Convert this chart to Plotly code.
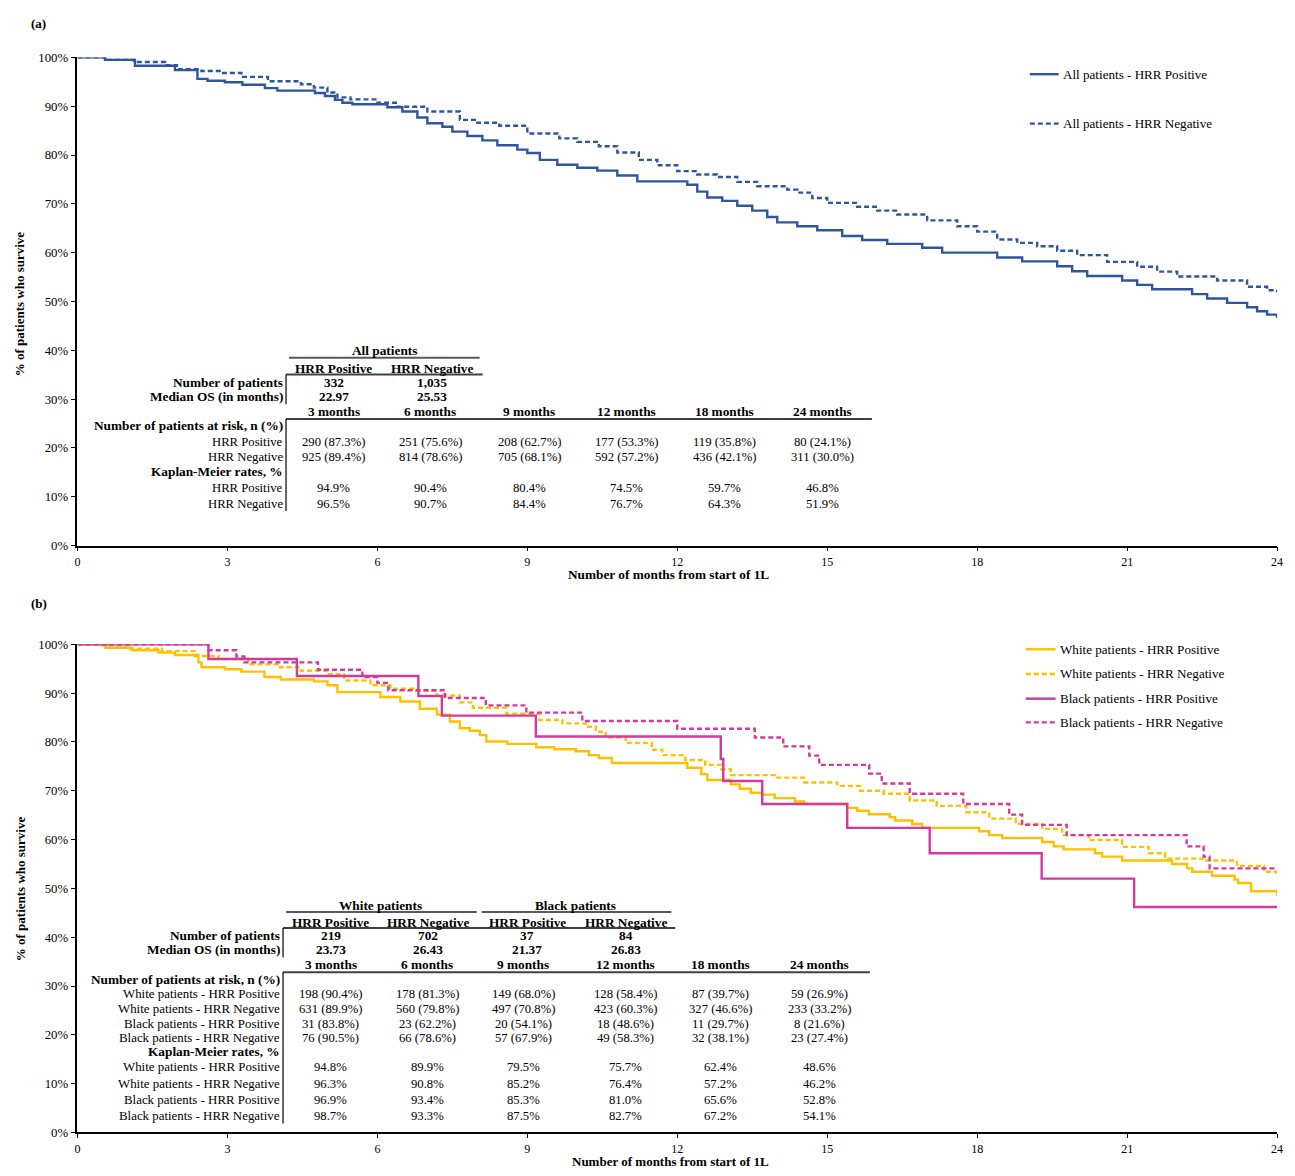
import plotly.graph_objects as go

W, H = 1295, 1176
FONT = "Liberation Serif"

# ---------------- Panel (a) data ----------------
a_pos_m = [0, 0.55, 1.15, 1.95, 2.4, 2.6, 2.95, 3.3, 3.75, 4.0, 4.75, 4.95, 5.15, 5.3, 5.5, 6.2, 6.5, 6.8, 7.0, 7.3,
           7.5, 7.8, 8.1, 8.4, 8.8, 9.0, 9.25, 9.6, 10.0, 10.4, 10.8, 11.2, 12.2, 12.4, 12.6, 12.9, 13.2, 13.5, 13.8, 14.0,
           14.4, 14.8, 15.3, 15.7, 16.2, 16.9, 17.3, 18.4, 18.9, 19.6, 19.9, 20.2, 20.9, 21.2, 21.5, 22.3, 22.6, 23.0, 23.4, 23.6,
           23.8, 24.0]
a_pos_s = [100, 99.5, 98.3, 97.4, 95.6, 95.2, 94.9, 94.4, 93.7, 93.2, 92.7, 92.1, 91.3, 90.7, 90.4, 89.8, 88.9, 87.7, 86.5, 85.8,
           84.8, 83.9, 83.0, 82.0, 81.1, 80.4, 79.0, 78.0, 77.4, 76.8, 75.8, 74.6, 73.9, 72.5, 71.3, 70.6, 69.6, 68.6, 67.3, 66.2,
           65.4, 64.6, 63.4, 62.6, 61.8, 61.0, 60.0, 59.0, 58.2, 57.2, 56.2, 55.2, 54.3, 53.4, 52.5, 51.5, 50.6, 49.7, 48.8, 48.0,
           47.3, 46.6]
a_neg_m = [0, 0.56, 1.13, 1.75, 1.99, 2.48, 2.88, 3.28, 3.81, 4.47, 4.73, 5.0, 5.2, 5.46, 6.0, 6.4, 7.0, 7.65, 8.0, 8.44,
           9.0, 9.64, 10.0, 10.43, 10.8, 11.23, 11.6, 12.0, 12.4, 12.8, 13.2, 13.6, 14.2, 14.4, 14.7, 15.0, 15.6, 16.0, 16.4, 17.0,
           17.6, 18.0, 18.4, 18.8, 19.2, 19.6, 20.0, 20.6, 21.2, 21.6, 22.0, 22.8, 23.4, 23.8, 24.0]
a_neg_s = [100, 99.5, 99.05, 98.4, 97.6, 97.2, 96.8, 96.0, 95.1, 94.5, 93.8, 92.8, 91.8, 91.4, 90.7, 89.9, 88.9, 87.2, 86.6, 86.0,
           84.4, 83.4, 82.7, 81.8, 80.5, 79.0, 77.9, 76.7, 76.0, 75.5, 74.5, 73.6, 72.9, 72.3, 71.2, 70.2, 69.4, 68.6, 67.8, 66.6,
           65.4, 64.3, 62.7, 62.0, 61.3, 60.4, 59.5, 58.1, 57.1, 56.1, 55.1, 54.3, 53.0, 52.3, 51.9]

# ---------------- Panel (b) data ----------------
bw_pos_m = [0, 0.56, 1.09, 1.62, 1.95, 2.42, 2.48, 2.95, 3.28, 3.74, 4.07, 4.73, 5.0, 5.2, 6.06, 6.46, 6.85, 7.19, 7.45, 7.65,
            7.85, 8.05, 8.18, 8.6, 9.18, 9.54, 9.97, 10.23, 10.43, 10.69, 12.2, 12.48, 12.6, 13.07, 13.25, 13.47, 13.7, 13.95, 14.35, 14.54,
            15.4, 15.6, 15.83, 16.25, 16.36, 16.7, 16.9, 18.04, 18.24, 18.5, 19.3, 19.53, 19.73, 20.36, 20.5, 20.9, 21.9, 22.2, 22.3, 22.7,
            23.15, 23.22, 23.48, 24.0]
bw_pos_s = [100, 99.3, 98.8, 98.3, 97.8, 96.3, 95.3, 94.9, 94.4, 93.3, 92.8, 92.4, 91.6, 90.2, 89.2, 88.3, 86.8, 85.6, 84.2, 82.8,
            82.3, 81.4, 80.1, 79.6, 78.9, 78.5, 78.1, 77.3, 76.7, 75.7, 74.7, 73.4, 72.2, 71.3, 70.4, 69.6, 69.2, 68.5, 67.8, 67.3,
            66.5, 65.9, 65.2, 64.6, 63.9, 63.2, 62.4, 61.7, 60.9, 60.3, 59.5, 58.6, 58.0, 57.2, 56.5, 55.7, 55.0, 54.1, 53.4, 52.6,
            51.8, 51.1, 49.4, 48.5]
bw_neg_m = [0, 0.5, 1.03, 1.69, 2.35, 2.82, 3.42, 4.0, 4.47, 5.0, 5.33, 5.86, 6.26, 6.72, 7.19, 7.65, 7.91, 8.58, 9.24, 9.7,
            10.17, 10.37, 10.57, 10.97, 11.49, 11.7, 12.16, 12.56, 12.88, 13.07, 13.95, 14.54, 15.2, 15.66, 16.13, 16.65, 17.19, 17.78, 18.24, 18.77,
            19.3, 19.7, 20.23, 20.9, 21.43, 21.76, 22.55, 23.2, 23.74, 24.0]
bw_neg_s = [100, 99.8, 99.1, 98.6, 97.6, 97.0, 95.9, 95.3, 94.6, 93.9, 92.6, 91.6, 90.9, 90.5, 89.5, 88.1, 87.0, 85.8, 84.5, 83.8,
            83.1, 82.1, 80.9, 79.8, 78.4, 77.3, 76.3, 75.3, 74.4, 73.2, 72.7, 71.7, 71.0, 70.0, 69.4, 68.0, 66.9, 65.6, 64.3, 63.2,
            62.2, 60.9, 59.9, 58.5, 57.2, 56.1, 55.7, 54.6, 53.4, 52.8]
bb_pos_m = [0, 2.62, 4.39, 6.82, 7.29, 9.17, 12.87, 12.92, 13.7, 15.4, 17.05, 19.29, 21.14, 24.0]
bb_pos_s = [100, 97.0, 93.5, 89.4, 85.4, 81.1, 76.5, 72.0, 67.3, 62.4, 57.2, 52.0, 46.2, 46.2]
bb_neg_m = [0, 2.62, 3.18, 3.34, 4.81, 5.7, 6.0, 6.22, 7.35, 8.17, 8.98, 10.1, 12.0, 13.55, 14.12, 14.64, 14.84, 15.84, 16.09, 16.65,
            17.72, 18.64, 18.9, 19.79, 22.19, 22.53, 22.65, 24.0]
bb_neg_s = [100, 98.8, 97.5, 96.3, 94.8, 93.3, 92.1, 90.6, 89.0, 87.5, 86.0, 84.3, 82.7, 80.9, 79.1, 77.2, 75.3, 73.5, 71.5, 69.4,
            67.3, 65.1, 63.0, 60.9, 58.6, 56.5, 54.1, 54.1]

# ---------------- Series names ----------------
a_names = ["All patients - HRR Positive", "All patients - HRR Negative"]
b_names = ["White patients - HRR Positive", "White patients - HRR Negative",
           "Black patients - HRR Positive", "Black patients - HRR Negative"]

# ---------------- Table data ----------------
timepoints = ["3 months", "6 months", "9 months", "12 months", "18 months", "24 months"]
hrr_cols = ["HRR Positive", "HRR Negative"]

a_group = "All patients"
a_n = ["332", "1,035"]
a_median = ["22.97", "25.53"]
a_rows = ["HRR Positive", "HRR Negative"]
a_risk = [["290 (87.3%)", "251 (75.6%)", "208 (62.7%)", "177 (53.3%)", "119 (35.8%)", "80 (24.1%)"],
          ["925 (89.4%)", "814 (78.6%)", "705 (68.1%)", "592 (57.2%)", "436 (42.1%)", "311 (30.0%)"]]
a_km = [["94.9%", "90.4%", "80.4%", "74.5%", "59.7%", "46.8%"],
        ["96.5%", "90.7%", "84.4%", "76.7%", "64.3%", "51.9%"]]

b_groups = ["White patients", "Black patients"]
b_n = ["219", "702", "37", "84"]
b_median = ["23.73", "26.43", "21.37", "26.83"]
b_rows = b_names
b_risk = [["198 (90.4%)", "178 (81.3%)", "149 (68.0%)", "128 (58.4%)", "87 (39.7%)", "59 (26.9%)"],
          ["631 (89.9%)", "560 (79.8%)", "497 (70.8%)", "423 (60.3%)", "327 (46.6%)", "233 (33.2%)"],
          ["31 (83.8%)", "23 (62.2%)", "20 (54.1%)", "18 (48.6%)", "11 (29.7%)", "8 (21.6%)"],
          ["76 (90.5%)", "66 (78.6%)", "57 (67.9%)", "49 (58.3%)", "32 (38.1%)", "23 (27.4%)"]]
b_km = [["94.8%", "89.9%", "79.5%", "75.7%", "62.4%", "48.6%"],
        ["96.3%", "90.8%", "85.2%", "76.4%", "57.2%", "46.2%"],
        ["96.9%", "93.4%", "85.3%", "81.0%", "65.6%", "52.8%"],
        ["98.7%", "93.3%", "87.5%", "82.7%", "67.2%", "54.1%"]]

x_ticks = [0, 3, 6, 9, 12, 15, 18, 21, 24]
y_ticks = [0, 10, 20, 30, 40, 50, 60, 70, 80, 90, 100]

# ---------------- Styles ----------------
BLUE = "#2F55A0"
YELLOW = "#FFC000"
PINK = "#D4399E"
DASH = "5px,3px"
REG = 12.7   # regular table text
BLD = 13.3   # bold table text

fig = go.Figure()

def add_curve(m, s, name, color, dash, xa, ya):
    fig.add_trace(go.Scatter(x=m, y=s, name=name, mode="lines", line_shape="hv",
                             line=dict(color=color, width=2.4, dash=dash),
                             xaxis=xa, yaxis=ya, showlegend=False))

add_curve(a_pos_m, a_pos_s, a_names[0], BLUE, "solid", "x", "y")
add_curve(a_neg_m, a_neg_s, a_names[1], BLUE, DASH, "x", "y")
add_curve(bw_pos_m, bw_pos_s, b_names[0], YELLOW, "solid", "x2", "y2")
add_curve(bw_neg_m, bw_neg_s, b_names[1], YELLOW, DASH, "x2", "y2")
add_curve(bb_pos_m, bb_pos_s, b_names[2], PINK, "solid", "x2", "y2")
add_curve(bb_neg_m, bb_neg_s, b_names[3], PINK, DASH, "x2", "y2")

# ---------------- Layout helpers (page pixels -> paper coords) ----------------
def px(x):
    return x / W

def py(y):
    return 1 - y / H

ann = []
shapes = []

def txt(x, y, s, size=REG, bold=False, anchor="center", angle=0):
    ann.append(dict(x=px(x), y=py(y), xref="paper", yref="paper",
                    text=f"<b>{s}</b>" if bold else s, showarrow=False,
                    xanchor=anchor, yanchor="middle", textangle=angle, borderpad=0,
                    font=dict(family=FONT, size=size, color="black")))

def hline(x0, x1, y, width=1.8, color="#404040", dash="solid"):
    shapes.append(dict(type="line", xref="paper", yref="paper", x0=px(x0), x1=px(x1),
                       y0=py(y), y1=py(y), line=dict(color=color, width=width, dash=dash)))

def vline(x, y0, y1, width=1.2, color="black"):
    shapes.append(dict(type="line", xref="paper", yref="paper", x0=px(x), x1=px(x),
                       y0=py(y0), y1=py(y1), line=dict(color=color, width=width)))

# Panel labels and axis titles
txt(36, 17, "(a)", size=13, bold=True)
txt(36, 604, "(b)", size=13, bold=True)
txt(17, 300, "% of patients who survive", size=13, bold=True, angle=-90)
txt(17, 892, "% of patients who survive", size=13, bold=True, angle=-90)
txt(670, 574, "Number of months from start of 1L", size=13.3, bold=True)
txt(672, 1168, "Number of months from start of 1L", size=13, bold=True)

# Legends (a)
leg_a_y = [68, 118]
leg_a_dash = ["solid", DASH]
for name, yy, d in zip(a_names, leg_a_y, leg_a_dash):
    hline(1034, 1063, yy, width=2.4, color=BLUE, dash=d)
    txt(1066, yy, name, size=13.1, anchor="left")

# Legends (b)
leg_b_y = [650, 675, 700, 724]
leg_b_col = [YELLOW, YELLOW, PINK, PINK]
leg_b_dash = ["solid", DASH, "solid", DASH]
for name, yy, c, d in zip(b_names, leg_b_y, leg_b_col, leg_b_dash):
    hline(1030, 1060, yy, width=2.4, color=c, dash=d)
    txt(1063, yy, name, size=13.1, anchor="left")

# ---------------- Table (a) ----------------
a_hdr_x = [333, 432]
a_col_x = [333, 430, 530, 628, 727, 825]
LBL_A = 283
txt(384, 348, a_group, size=BLD, bold=True)
hline(288, 480, 355, width=2, color="#595959")
for xx, h in zip(a_hdr_x, hrr_cols):
    txt(xx, 366, h, size=BLD, bold=True)
hline(285, 483, 372, width=2)
vline(285, 372, 402)
txt(LBL_A, 380, "Number of patients", size=BLD, bold=True, anchor="right")
txt(LBL_A, 394, "Median OS (in months)", size=BLD, bold=True, anchor="right")
for xx, n, md in zip(a_hdr_x, a_n, a_median):
    txt(xx, 380, n, size=BLD, bold=True)
    txt(xx, 394, md, size=BLD, bold=True)
for xx, t in zip(a_col_x, timepoints):
    txt(xx, 409, t, size=BLD, bold=True)
hline(285, 875, 417, width=2)
vline(285, 417, 510)
txt(LBL_A, 424, "Number of patients at risk, n (%)", size=BLD, bold=True, anchor="right")
for row, yy, vals in zip(a_rows, [440, 455], a_risk):
    txt(LBL_A, yy, row, anchor="right")
    for xx, v in zip(a_col_x, vals):
        txt(xx, yy, v)
txt(LBL_A, 470, "Kaplan-Meier rates, %", size=BLD, bold=True, anchor="right")
for row, yy, vals in zip(a_rows, [487, 503], a_km):
    txt(LBL_A, yy, row, anchor="right")
    for xx, v in zip(a_col_x, vals):
        txt(xx, yy, v)

# ---------------- Table (b) ----------------
b_hdr_x = [330, 428, 528, 627]
b_col_x = [330, 427, 524, 627, 723, 822]
LBL_B = 280
txt(380, 909, b_groups[0], size=BLD, bold=True)
txt(577, 909, b_groups[1], size=BLD, bold=True)
hline(285, 477, 916, width=2, color="#595959")
hline(482, 673, 916, width=2, color="#595959")
for xx, h in zip(b_hdr_x, hrr_cols * 2):
    txt(xx, 927, h, size=BLD, bold=True)
hline(282, 677, 932, width=2)
vline(282, 932, 962)
txt(LBL_B, 940, "Number of patients", size=BLD, bold=True, anchor="right")
txt(LBL_B, 954, "Median OS (in months)", size=BLD, bold=True, anchor="right")
for xx, n, md in zip(b_hdr_x, b_n, b_median):
    txt(xx, 940, n, size=BLD, bold=True)
    txt(xx, 954, md, size=BLD, bold=True)
for xx, t in zip(b_col_x, timepoints):
    txt(xx, 969, t, size=BLD, bold=True)
hline(282, 873, 977, width=2)
vline(282, 977, 1130)
txt(LBL_B, 984, "Number of patients at risk, n (%)", size=BLD, bold=True, anchor="right")
for row, yy, vals in zip(b_rows, [999, 1014, 1029, 1043], b_risk):
    txt(LBL_B, yy, row, size=12.9, anchor="right")
    for xx, v in zip(b_col_x, vals):
        txt(xx, yy, v)
txt(LBL_B, 1057, "Kaplan-Meier rates, %", size=BLD, bold=True, anchor="right")
for row, yy, vals in zip(b_rows, [1073, 1090, 1106, 1122], b_km):
    txt(LBL_B, yy, row, size=12.9, anchor="right")
    for xx, v in zip(b_col_x, vals):
        txt(xx, yy, v)

# ---------------- Axes ----------------
xdom = [px(75), px(1283)]
ydom_a = [py(545), py(51)]
ydom_b = [py(1139), py(645)]

xcommon = dict(range=[0, 24], tickvals=x_ticks, ticktext=[str(v) for v in x_ticks], showgrid=False,
               zeroline=False, showline=True, linecolor="black", linewidth=1.5, ticks="outside",
               ticklen=4, tickcolor="black", tickwidth=1,
               tickfont=dict(family=FONT, size=12, color="black"), domain=xdom)
ycommon = dict(range=[0, 100], tickvals=y_ticks, ticktext=[f"{v}%" for v in y_ticks], showgrid=False,
               zeroline=False, showline=True, linecolor="black", linewidth=1.5, ticks="outside",
               ticklen=5, tickcolor="black", tickwidth=1,
               tickfont=dict(family=FONT, size=12.8, color="black"))

fig.update_layout(
    width=W, height=H, autosize=False,
    margin=dict(l=0, r=0, t=0, b=0),
    paper_bgcolor="white", plot_bgcolor="white",
    font=dict(family=FONT, size=13, color="black"),
    showlegend=False,
    xaxis=dict(**xcommon, anchor="y"),
    yaxis=dict(**ycommon, domain=ydom_a, anchor="x"),
    xaxis2=dict(**xcommon, anchor="y2"),
    yaxis2=dict(**ycommon, domain=ydom_b, anchor="x2"),
    annotations=ann,
    shapes=shapes,
)

fig.write_html("out.html")
